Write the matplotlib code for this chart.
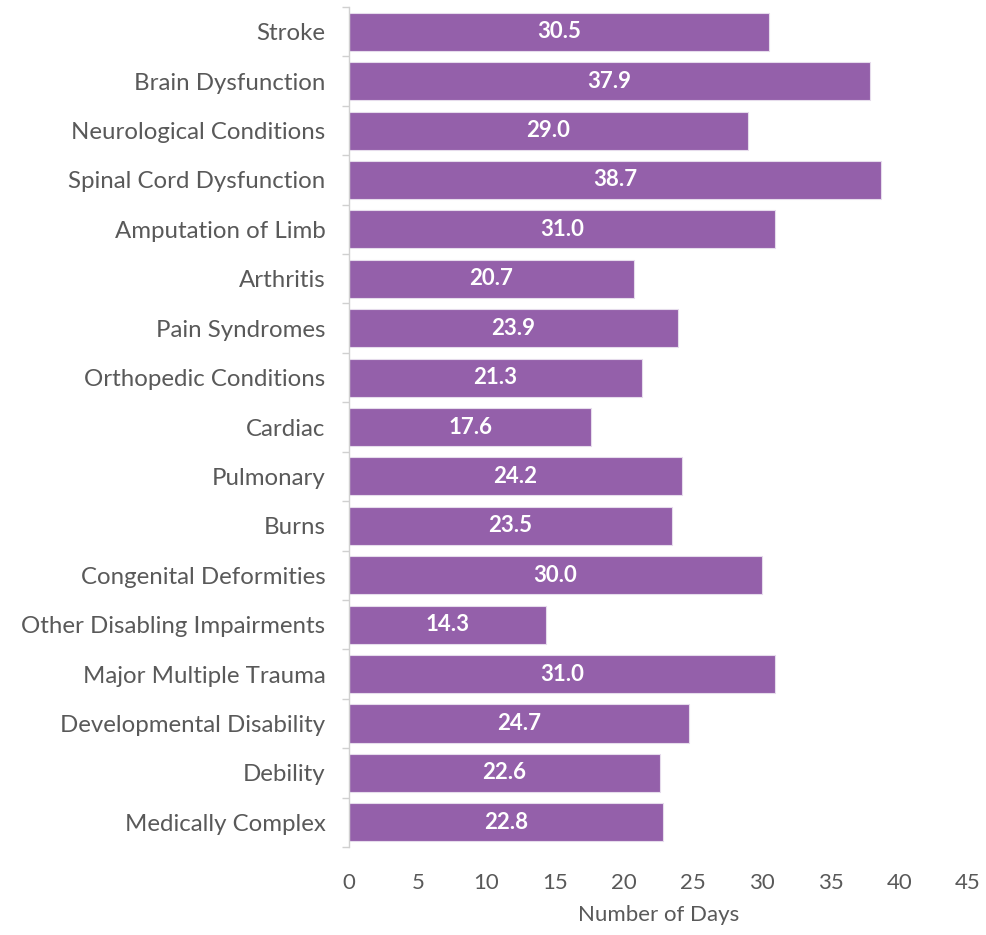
import numpy as np
import matplotlib.pyplot as plt

categories = [
    "Stroke", "Brain Dysfunction", "Neurological Conditions",
    "Spinal Cord Dysfunction", "Amputation of Limb", "Arthritis",
    "Pain Syndromes", "Orthopedic Conditions", "Cardiac", "Pulmonary",
    "Burns", "Congenital Deformities", "Other Disabling Impairments",
    "Major Multiple Trauma", "Developmental Disability", "Debility",
    "Medically Complex",
]
days = [30.5, 37.9, 29.0, 38.7, 31.0, 20.7, 23.9, 21.3, 17.6, 24.2,
        23.5, 30.0, 14.3, 31.0, 24.7, 22.6, 22.8]
xticks = [0, 5, 10, 15, 20, 25, 30, 35, 40, 45]

plt.rcParams['font.family'] = ['Lato', 'DejaVu Sans']
text_grey = '#595959'
bar_purple = '#9460aa'

fig = plt.figure(figsize=(9.87, 9.35), dpi=100)
ax = fig.add_axes([0.3536, 0.0941, 0.6271, 0.8984])

y = np.arange(len(categories))
bars = ax.barh(y, days, height=0.77, color=bar_purple,
               edgecolor='#e6dcec', linewidth=0.8)
for b, v in zip(bars, days):
    ax.text(v / 2, b.get_y() + b.get_height() / 2, f"{v:.1f}",
            ha='center', va='center', color='white',
            fontsize=16, fontweight='bold')

ax.set_ylim(len(categories) - 0.5, -0.5)
ax.set_xlim(0, 45)
ax.set_yticks(y)
ax.set_yticklabels(categories, fontsize=17.3, color=text_grey)
ax.set_yticks(np.arange(len(categories) + 1) - 0.5, minor=True)
ax.tick_params(axis='y', which='major', length=0, pad=17)
ax.tick_params(axis='y', which='minor', length=5, color='#d0d0d0', width=1)
ax.set_xticks(xticks)
ax.tick_params(axis='x', length=0, labelsize=16, labelcolor=text_grey, pad=19)
ax.set_xlabel("Number of Days", fontsize=16, color=text_grey, labelpad=8)

for s in ['top', 'right', 'bottom']:
    ax.spines[s].set_visible(False)
ax.spines['left'].set_color('#d0d0d0')
ax.spines['left'].set_linewidth(1)

fig.savefig('out.png', dpi=100, facecolor='white')
